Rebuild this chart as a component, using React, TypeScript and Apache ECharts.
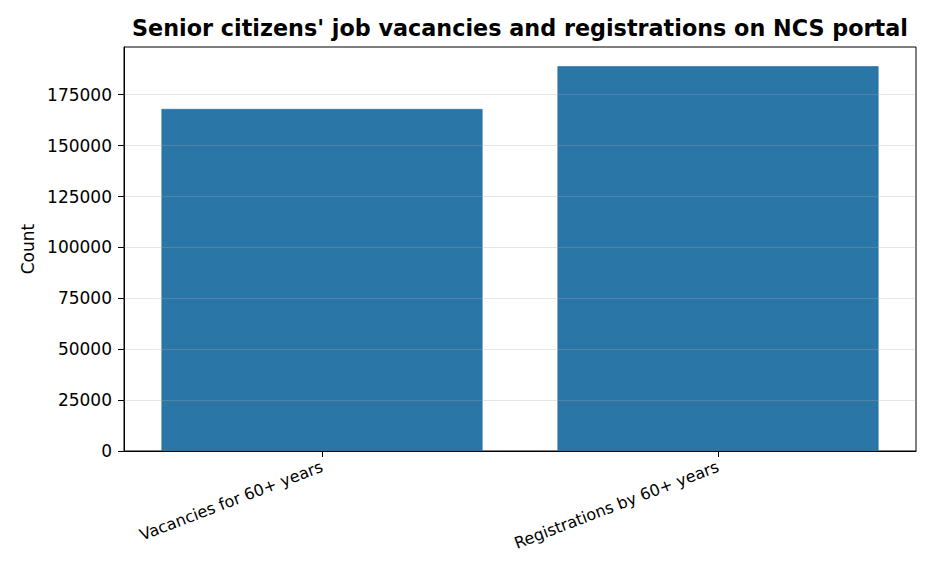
import React, { useEffect, useRef } from "react";
import * as echarts from "echarts";

const categories = ["Vacancies for 60+ years", "Registrations by 60+ years"];
const counts = [168000, 189000];
const yTicks = [0, 25000, 50000, 75000, 100000, 125000, 150000, 175000];
const titleText = "Senior citizens' job vacancies and registrations on NCS portal";
const yAxisName = "Count";

export default function App() {
  const ref = useRef<HTMLDivElement>(null);
  useEffect(() => {
    document.body.style.margin = "0";
    if (!ref.current) return;
    const chart = echarts.init(ref.current, undefined, { renderer: "svg" });
    const font = "DejaVu Sans";
    const yMax = Math.max(...counts) * 1.05;
    chart.setOption({
      animation: false,
      backgroundColor: "#ffffff",
      title: {
        text: titleText,
        left: 515,
        top: 12,
        textAlign: "center",
        textStyle: { fontFamily: font, fontSize: 22.3, fontWeight: "bold", color: "#000" },
      },
      grid: {
        left: 124,
        right: 20,
        top: 47,
        bottom: 121,
        show: true,
        borderColor: "#000",
        borderWidth: 1,
        backgroundColor: "transparent",
      },
      xAxis: {
        type: "category",
        data: categories,
        axisLine: { show: true, lineStyle: { color: "#000", width: 1 } },
        axisTick: { show: true, alignWithLabel: true, length: 6, lineStyle: { color: "#000" } },
        axisLabel: {
          rotate: 21,
          margin: 15,
          fontFamily: font,
          fontSize: 16,
          color: "#000",
        },
        splitLine: { show: false },
      },
      yAxis: {
        type: "value",
        min: 0,
        max: yMax,
        interval: 25000,
        name: yAxisName,
        nameLocation: "middle",
        nameGap: 88,
        nameTextStyle: { fontFamily: font, fontSize: 17, color: "#000" },
        axisLine: { show: true, lineStyle: { color: "#000", width: 1 } },
        axisTick: { show: true, length: 6, lineStyle: { color: "#000" } },
        axisLabel: {
          margin: 12,
          fontFamily: font,
          fontSize: 17,
          color: "#000",
          showMaxLabel: false,
          formatter: (v: number) => (v % 25000 === 0 ? String(v) : ""),
        },
        splitLine: { show: false },
      },
      series: [
        {
          type: "bar",
          data: counts,
          barWidth: 321,
          itemStyle: { color: "#2a76a7", borderColor: "#24699a", borderWidth: 0.6 },
          markLine: {
            silent: true,
            symbol: "none",
            label: { show: false },
            lineStyle: { color: "rgba(170,170,170,0.3)", width: 1, type: "solid" },
            data: yTicks.filter((t) => t > 0).map((t) => ({ yAxis: t })),
          },
        },
      ],
    });
    return () => chart.dispose();
  }, []);
  return <div ref={ref} style={{ width: 936, height: 572 }} />;
}
